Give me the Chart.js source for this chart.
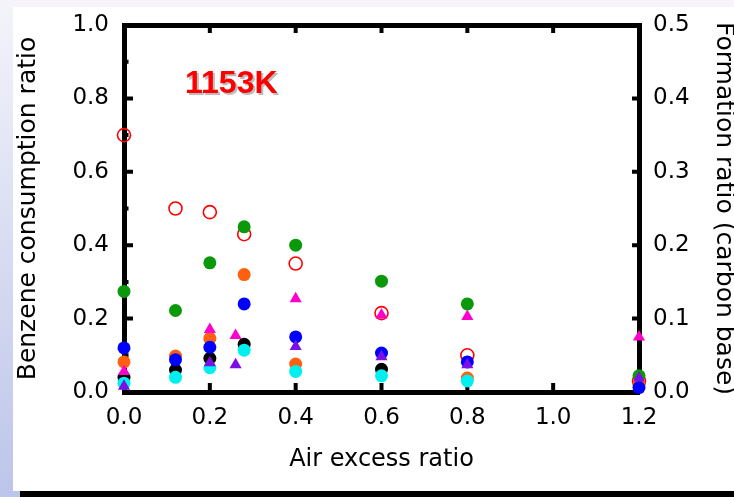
<!DOCTYPE html>
<html>
<head>
<meta charset="utf-8">
<script src="https://cdn.jsdelivr.net/npm/chart.js@4/dist/chart.umd.min.js"></script>
<style>
  html, body { margin: 0; padding: 0; background: #fff; }
  canvas { display: block; }
</style>
</head>
<body>
<canvas id="airChart" width="734" height="497"></canvas>
<script>
        const xTicks = [0.0, 0.2, 0.4, 0.6, 0.8, 1.0, 1.2];
        const yTicks = [0.0, 0.2, 0.4, 0.6, 0.8, 1.0];
        const y2Ticks = [0.0, 0.1, 0.2, 0.3, 0.4, 0.5];

        // benzene consumption ratio (left axis)
        const benzeneX = [0.0, 0.12, 0.2, 0.28, 0.4, 0.6, 0.8, 1.2];
        const benzeneY = [0.70, 0.50, 0.49, 0.43, 0.35, 0.215, 0.10, 0.03];

        // formation ratios (right axis)
        const greenX = [0.0, 0.12, 0.2, 0.28, 0.4, 0.6, 0.8, 1.2];
        const greenY = [0.137, 0.111, 0.176, 0.225, 0.200, 0.151, 0.120, 0.022];
        const orangeX = [0.0, 0.12, 0.2, 0.28, 0.4, 0.8, 1.2];
        const orangeY = [0.041, 0.049, 0.073, 0.160, 0.038, 0.019, 0.010];
        const blueX = [0.0, 0.12, 0.2, 0.28, 0.4, 0.6, 0.8, 1.2];
        const blueY = [0.060, 0.044, 0.061, 0.120, 0.075, 0.053, 0.041, 0.006];
        const blackX = [0.0, 0.12, 0.2, 0.28, 0.6];
        const blackY = [0.020, 0.030, 0.046, 0.065, 0.031];
        const cyanX = [0.0, 0.12, 0.2, 0.28, 0.4, 0.6, 0.8];
        const cyanY = [0.012, 0.020, 0.033, 0.057, 0.028, 0.022, 0.015];
        const magentaX = [0.0, 0.2, 0.26, 0.4, 0.6, 0.8, 1.2];
        const magentaY = [0.028, 0.085, 0.077, 0.127, 0.105, 0.103, 0.075];
        const purpleX = [0.0, 0.2, 0.26, 0.4, 0.6, 0.8, 1.2];
        const purpleY = [0.008, 0.040, 0.037, 0.062, 0.048, 0.037, 0.019];

        const pts = (xs, ys) => xs.map((x, i) => ({ x: x, y: ys[i] }));

        function filled(label, xs, ys, color, style, axis) {
            return {
                label: label,
                data: pts(xs, ys),
                yAxisID: axis,
                pointStyle: style,
                pointRadius: style === 'triangle' ? 7 : 6.5,
                backgroundColor: color,
                borderColor: color,
                borderWidth: 0,
                showLine: false,
                clip: false
            };
        }

        const AXIS_FONT = 'DejaVu Sans';

        // background of the slide + inward tick marks + temperature label
        const decor = {
            id: 'decor',
            beforeDraw(chart) {
                const ctx = chart.ctx;
                const w = chart.width, h = chart.height;
                ctx.save();
                ctx.fillStyle = '#ffffff';
                ctx.fillRect(0, 0, w, h);
                ctx.fillStyle = '#f6f4fa';
                ctx.fillRect(0, 0, w, 7);
                const g = ctx.createLinearGradient(0, 0, 0, h);
                g.addColorStop(0, '#f4f4fa');
                g.addColorStop(1, '#bcc5ea');
                ctx.fillStyle = g;
                ctx.fillRect(0, 0, 13, h);
                ctx.fillRect(0, 491, 20, h - 491);
                ctx.fillStyle = '#000000';
                ctx.fillRect(20, 491, w - 20, h - 491);
                ctx.restore();
            },
            beforeDatasetsDraw(chart) {
                const ctx = chart.ctx;
                const a = chart.chartArea;
                const x = chart.scales.x, y = chart.scales.y, y2 = chart.scales.y2;
                ctx.save();
                ctx.strokeStyle = '#000';
                ctx.lineWidth = 4;
                ctx.beginPath();
                xTicks.slice(1, -1).forEach(v => {
                    const px = x.getPixelForValue(v);
                    ctx.moveTo(px, a.bottom); ctx.lineTo(px, a.bottom - 9);
                    ctx.moveTo(px, a.top); ctx.lineTo(px, a.top + 8);
                });
                yTicks.slice(1, -1).forEach(v => {
                    const py = y.getPixelForValue(v);
                    ctx.moveTo(a.left, py); ctx.lineTo(a.left + 9, py);
                });
                [0.1, 0.3, 0.5, 0.7, 0.9].forEach(v => {
                    const py = y.getPixelForValue(v);
                    ctx.moveTo(a.left, py); ctx.lineTo(a.left + 4.5, py);
                });
                y2Ticks.slice(1, -1).forEach(v => {
                    const py = y2.getPixelForValue(v);
                    ctx.moveTo(a.right, py); ctx.lineTo(a.right - 7, py);
                });
                ctx.stroke();
                ctx.restore();
            },
            afterDatasetsDraw(chart) {
                const ctx = chart.ctx;
                const px = chart.scales.x.getPixelForValue(0.25);
                const py = chart.scales.y.getPixelForValue(0.84);
                ctx.save();
                ctx.font = 'bold 32px "Liberation Sans", Arial, sans-serif';
                ctx.textAlign = 'center';
                ctx.textBaseline = 'middle';
                ctx.fillStyle = '#bdbdbd';
                ctx.fillText('1153K', px + 2, py + 2);
                ctx.fillStyle = '#ff0000';
                ctx.fillText('1153K', px, py);
                ctx.restore();
            }
        };

        const data = {
            datasets: [
                filled('Series 7', purpleX, purpleY, '#7a10e6', 'triangle', 'y2'),
                filled('Series 6', magentaX, magentaY, '#ff00cc', 'triangle', 'y2'),
                filled('Series 5', cyanX, cyanY, '#00f0f0', 'circle', 'y2'),
                filled('Series 4', blueX, blueY, '#0000ff', 'circle', 'y2'),
                filled('Series 3', blackX, blackY, '#000000', 'circle', 'y2'),
                filled('Series 2', orangeX, orangeY, '#ff6010', 'circle', 'y2'),
                filled('Series 1', greenX, greenY, '#0a990a', 'circle', 'y2'),
                {
                    label: 'Benzene consumption ratio',
                    data: pts(benzeneX, benzeneY),
                    yAxisID: 'y',
                    pointStyle: 'circle',
                    pointRadius: 6.5,
                    backgroundColor: 'rgba(255,255,255,0)',
                    borderColor: '#ff0000',
                    borderWidth: 1.6,
                    showLine: false,
                    clip: false
                }
            ]
        };

        const tickFont = { family: AXIS_FONT, size: 23 };
        const border = { display: true, width: 5, color: '#000' };

        const config = {
            type: 'scatter',
            data: data,
            options: {
                responsive: false,
                animation: false,
                layout: { padding: 0 },
                plugins: {
                    legend: { display: false },
                    tooltip: { enabled: false }
                },
                scales: {
                    x: {
                        type: 'linear', position: 'bottom', min: 0, max: 1.2,
                        afterBuildTicks: s => { s.ticks = xTicks.map(v => ({ value: v })); },
                        ticks: { callback: v => v.toFixed(1), font: tickFont, color: '#000', padding: 4, maxRotation: 0, autoSkip: false },
                        grid: { display: false },
                        border: border,
                        title: { display: true, text: 'Air excess ratio', color: '#000', font: { family: AXIS_FONT, size: 24 }, padding: { top: 0, bottom: 23 } },
                        afterFit: s => { s.height = 105; }
                    },
                    x2: {
                        type: 'linear', position: 'top', min: 0, max: 1.2,
                        ticks: { display: false },
                        grid: { display: false },
                        border: border,
                        afterFit: s => { s.height = 25; }
                    },
                    y: {
                        type: 'linear', position: 'left', min: 0, max: 1.0,
                        afterBuildTicks: s => { s.ticks = yTicks.map(v => ({ value: v })); },
                        ticks: { callback: v => v.toFixed(1), font: tickFont, color: '#000', padding: 7 },
                        grid: { display: false },
                        border: border,
                        title: { display: true, text: 'Benzene consumption ratio', color: '#000', font: { family: AXIS_FONT, size: 25 }, padding: { top: 13, bottom: 0 } },
                        afterFit: s => { s.width = 124; }
                    },
                    y2: {
                        type: 'linear', position: 'right', min: 0, max: 0.5,
                        afterBuildTicks: s => { s.ticks = y2Ticks.map(v => ({ value: v })); },
                        ticks: { callback: v => v.toFixed(1), font: tickFont, color: '#000', padding: 6 },
                        grid: { display: false },
                        border: border,
                        title: { display: true, text: 'Formation ratio (carbon base)', color: '#000', font: { family: AXIS_FONT, size: 25 }, padding: { top: -4, bottom: 0 } },
                        afterFit: s => { s.width = 95; }
                    }
                }
            },
            plugins: [decor]
        };
        new Chart(document.getElementById('airChart'), config);
</script>
</body>
</html>
